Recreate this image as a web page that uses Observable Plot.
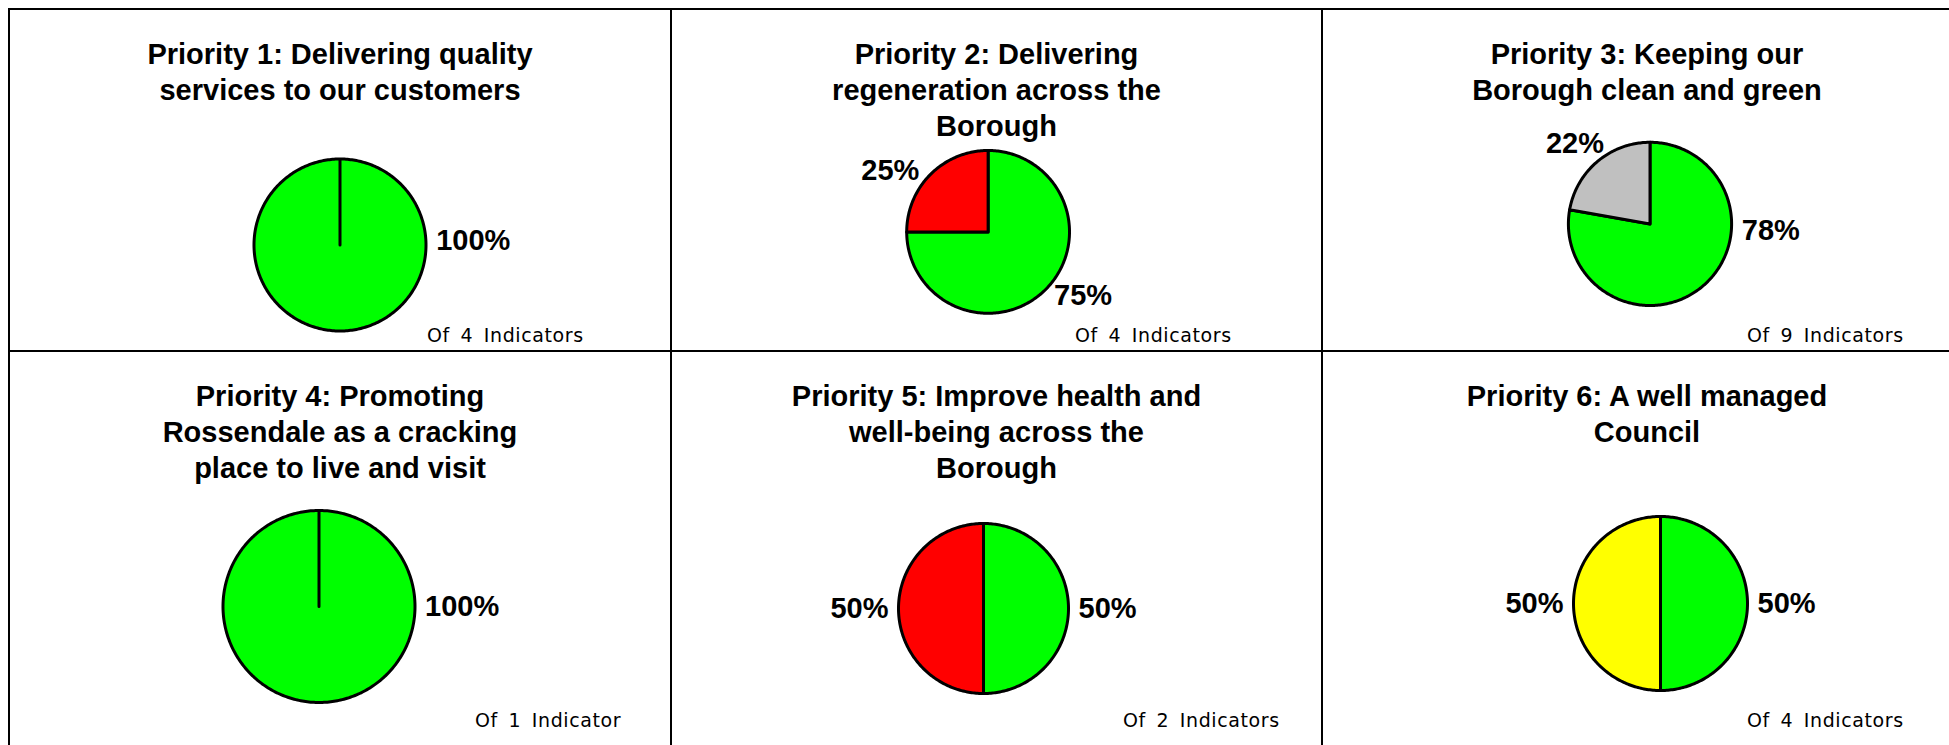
<!DOCTYPE html>
<html>
<head>
<meta charset="utf-8">
<script src="https://cdn.jsdelivr.net/npm/d3@7"></script>
<script src="https://cdn.jsdelivr.net/npm/@observablehq/plot@0.6"></script>
<style>
html, body { margin: 0; padding: 0; background: #fff; }
body { width: 1949px; height: 745px; overflow: hidden; position: relative; }
.rule { position: absolute; background: #000; }
.panel { position: absolute; }
.panel svg { position: absolute; left: 0; top: 0; }
.title { position: absolute; left: 0; right: 0; text-align: center; color: #000;
  font: bold 29px "Liberation Sans", Arial, sans-serif; line-height: 36px; }
.foot { position: absolute; white-space: nowrap; color: #000;
  font: 19px "DejaVu Sans", Verdana, sans-serif; line-height: 20px;
  letter-spacing: 0.6px; word-spacing: 4px; }
</style>
</head>
<body>
<script>
// ---------------- data ----------------
const titleLines = [
  ["Priority 1: Delivering quality", "services to our customers"],
  ["Priority 2: Delivering", "regeneration across the", "Borough"],
  ["Priority 3: Keeping our", "Borough clean and green"],
  ["Priority 4: Promoting", "Rossendale as a cracking", "place to live and visit"],
  ["Priority 5: Improve health and", "well-being across the", "Borough"],
  ["Priority 6: A well managed", "Council"]
];
const indicatorTotals = [4, 4, 9, 1, 2, 4];
const statuses = ["On target", "Off target", "Warning", "No data"];
const onTargetCounts  = [4, 3, 7, 1, 1, 2];
const offTargetCounts = [0, 1, 0, 0, 1, 0];
const warningCounts   = [0, 0, 0, 0, 0, 2];
const noDataCounts    = [0, 0, 2, 0, 0, 0];
const statusColors = ["#00ff00", "#ff0000", "#ffff00", "#c0c0c0"];

// ---------------- layout ----------------
const panelBoxes = [
  {x: 10,   y: 10,  w: 660, h: 340},
  {x: 672,  y: 10,  w: 649, h: 340},
  {x: 1323, y: 10,  w: 648, h: 340},
  {x: 10,   y: 352, w: 660, h: 393},
  {x: 672,  y: 352, w: 649, h: 393},
  {x: 1323, y: 352, w: 648, h: 393}
];
const pieBoxes = [
  {cx: 339.5,  cy: 244.5, r: 86},
  {cx: 987.6,  cy: 231.4, r: 81.4},
  {cx: 1649.5, cy: 223.4, r: 81.6},
  {cx: 318.5,  cy: 606,   r: 96},
  {cx: 983,    cy: 608,   r: 85},
  {cx: 1660,   cy: 603,   r: 87}
];
// label placement directions (degrees clockwise from 12 o'clock), as set in the original charts
const labelDirections = [[88], [124, 302], [93, 317], [90], [90, 270], [90, 270]];
const footLeft = [427, 1075, 1747, 475, 1123, 1747];
const footBaseline = [341, 341, 341, 726, 726, 726];
const titleTop = 26;
const labelSize = 29;
const labelGap = 10;

// ---------------- frame rules ----------------
function rule(x, y, w, h) {
  const d = document.createElement("div");
  d.className = "rule";
  Object.assign(d.style, {left: x + "px", top: y + "px", width: w + "px", height: h + "px"});
  document.body.appendChild(d);
}
rule(8, 8, 1941, 2);
rule(8, 350, 1941, 2);
rule(8, 8, 2, 737);
rule(670, 8, 2, 737);
rule(1321, 8, 2, 737);

const countsByStatus = [onTargetCounts, offTargetCounts, warningCounts, noDataCounts];
const pct = d3.format(".0%");
const charW = c => (c === "%" ? 0.889 : 0.556) * labelSize;

titleLines.forEach((lines, i) => {
  const box = panelBoxes[i], pie = pieBoxes[i];
  const total = indicatorTotals[i];

  // slices, clockwise from 12 o'clock
  let acc = 0;
  const slices = statuses
    .map((s, k) => ({status: s, count: countsByStatus[k][i]}))
    .filter(d => d.count > 0)
    .map(d => {
      const a0 = acc / total * 2 * Math.PI;
      acc += d.count;
      const a1 = acc / total * 2 * Math.PI;
      return {...d, a0, a1, share: d.count / total};
    });

  const points = [];
  slices.forEach((s, j) => {
    points.push({x: 0, y: 0, key: j, status: s.status});
    const n = Math.max(2, Math.ceil((s.a1 - s.a0) / (Math.PI / 180)));
    for (let t = 0; t <= n; t++) {
      const a = s.a0 + (s.a1 - s.a0) * t / n;
      points.push({x: Math.sin(a), y: Math.cos(a), key: j, status: s.status});
    }
  });

  const labels = slices.map((s, j) => {
    const text = pct(s.share);
    const dir = labelDirections[i][j];
    const a = dir != null ? dir * Math.PI / 180 : (s.a0 + s.a1) / 2;
    const w = [...text].reduce((m, c) => m + charW(c), 0);
    const h = 0.72 * labelSize;
    const ux = Math.sin(a), uy = Math.cos(a);
    const ext = Math.abs(ux) * w / 2 + Math.abs(uy) * h / 2;
    const gap = labelGap * Math.pow(Math.abs(ux), 6);
    const k = (pie.r + gap + ext) / pie.r;
    return {x: ux * k, y: uy * k, text};
  });

  const cx = pie.cx - box.x, cy = pie.cy - box.y;
  const chart = Plot.plot({
    width: box.w,
    height: box.h,
    marginLeft: cx - pie.r,
    marginRight: box.w - (cx + pie.r),
    marginTop: cy - pie.r,
    marginBottom: box.h - (cy + pie.r),
    x: {domain: [-1, 1], axis: null},
    y: {domain: [-1, 1], axis: null},
    color: {type: "ordinal", domain: statuses, range: statusColors},
    style: {background: "transparent", overflow: "visible", maxWidth: "none"},
    marks: [
      Plot.line(points, {x: "x", y: "y", z: "key", fill: "status", stroke: "black",
        strokeWidth: 3, curve: "linear-closed", strokeLinejoin: "round"}),
      Plot.text(labels, {x: "x", y: "y", text: "text", fontSize: labelSize, fontWeight: "bold",
        fontFamily: "Liberation Sans, Arial, sans-serif", fill: "black",
        textAnchor: "middle", lineAnchor: "middle"})
    ]
  });

  const panel = document.createElement("div");
  panel.className = "panel";
  Object.assign(panel.style, {left: box.x + "px", top: box.y + "px", width: box.w + "px", height: box.h + "px"});
  panel.appendChild(chart);

  const title = document.createElement("div");
  title.className = "title";
  title.style.top = titleTop + "px";
  lines.forEach((ln, j) => {
    if (j) title.appendChild(document.createElement("br"));
    title.appendChild(document.createTextNode(ln));
  });
  panel.appendChild(title);

  const foot = document.createElement("div");
  foot.className = "foot";
  foot.style.left = (footLeft[i] - box.x) + "px";
  foot.style.top = (footBaseline[i] - 16.5 - box.y) + "px";
  foot.textContent = "Of " + total + (total === 1 ? " Indicator" : " Indicators");
  panel.appendChild(foot);

  document.body.appendChild(panel);
});
</script>
</body>
</html>
